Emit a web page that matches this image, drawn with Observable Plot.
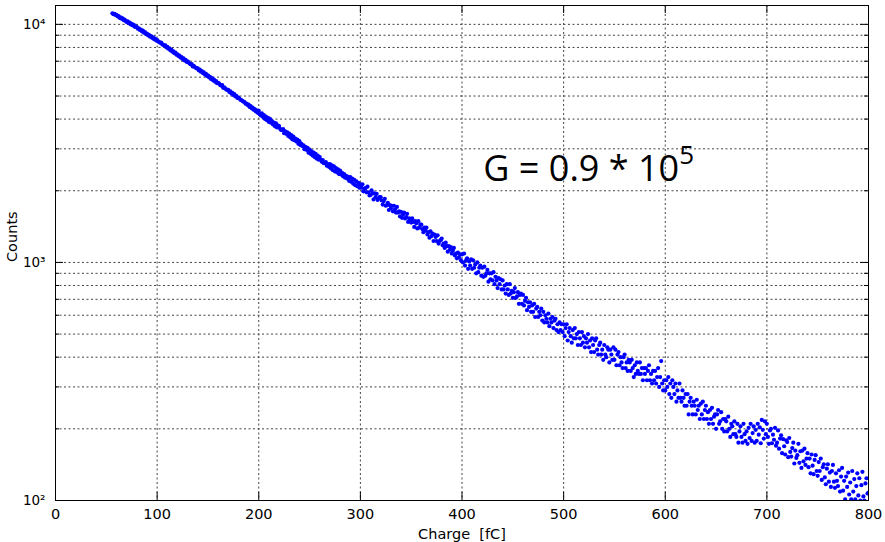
<!DOCTYPE html>
<html><head><meta charset="utf-8">
<script src="https://cdn.jsdelivr.net/npm/d3@7"></script>
<script src="https://cdn.jsdelivr.net/npm/@observablehq/plot@0.6"></script>
<style>body{margin:0;background:#fff}svg{display:block}</style>
</head><body><div id="chart"></div>
<script>
// Charge histogram: one bin per fC, first bin at 56 fC
const chargeStart = 56;
const counts = [
11120,11030,11060,10950,
10950,10810,10830,10650,10700,10560,10590,10420,10480,10330,
10240,10290,10110,10170,9990,10060,9890,9950,9760,9810,
9740,9590,9630,9470,9510,9350,9410,9230,9270,9100,
9150,8990,9040,8870,8930,8780,8820,8660,8710,8560,
8590,8480,8430,8360,8380,8240,8210,8150,8170,8010,
8050,7900,7930,7780,7830,7680,7710,7560,7610,7460,
7490,7360,7390,7250,7290,7160,7190,7050,7090,6960,
6990,6920,6840,6800,6810,6660,6700,6620,6570,6530,
6540,6410,6450,6330,6370,6240,6280,6150,6200,6070,
6110,5990,6020,5900,5950,5820,5860,5740,5780,5660,
5680,5640,5560,5530,5560,5410,5440,5380,5330,5300,
5310,5200,5230,5120,5160,5050,5090,4980,5010,4910,
4930,4880,4820,4800,4770,4730,4720,4640,4650,4580,
4600,4500,4540,4440,4470,4380,4410,4310,4350,4250,
4330,4190,4150,4230,4090,4160,4010,4100,3960,4050,
3890,4010,3860,3920,3800,3870,3730,3840,3690,3760,
3740,3640,3600,3590,3630,3490,3550,3470,3520,3400,
3480,3350,3430,3290,3380,3260,3310,3220,3280,3150,
3230,3110,3150,3080,3100,2990,3060,2970,3030,2890,
2980,2860,2930,2810,2890,2770,2860,2730,2810,2700,
2770,2700,2650,2690,2610,2620,2640,2550,2590,2520,
2590,2480,2560,2440,2530,2410,2490,2390,2460,2350,
2430,2340,2380,2300,2350,2270,2310,2250,2290,2200,
2280,2180,2250,2140,2220,2110,2190,2090,2160,2060,
2130,2060,2130,1990,2040,2050,1970,2080,1970,1910,
1920,2010,1950,1840,1950,1880,1940,1830,1860,1880,
1880,1820,1750,1810,1850,1730,1740,1780,1660,1740,
1690,1730,1640,1730,1670,1620,1710,1620,1640,1560,
1630,1540,1590,1620,1530,1550,1600,1480,1530,1490,
1470,1530,1480,1410,1490,1460,1390,1490,1400,1440,
1440,1380,1340,1400,1360,1400,1310,1340,1270,1350,
1290,1320,1230,1310,1280,1230,1300,1200,1230,1240,
1260,1180,1200,1150,1210,1170,1110,1170,1130,1160,
1090,1120,1150,1070,1090,1040,1100,1050,1080,1020,
1080,1000,1090,970,1020,1040,940,1010,970,1030,
940,1020,950,980,900,1000,910,950,970,880,
950,870,960,880,900,930,830,900,850,900,
840,910,810,870,840,780,860,810,850,770,
840,770,800,740,810,770,730,810,740,760,
710,750,780,710,720,750,670,730,740,670,
730,660,690,710,630,680,650,680,620,660,
620,670,590,640,650,590,620,600,640,570,
620,560,600,580,560,610,540,580,560,590,
530,570,580,520,550,510,560,520,550,510,
550,490,530,550,470,510,530,490,460,520,
480,530,480,500,450,510,480,450,510,460,
490,440,480,460,500,440,470,420,480,450,
420,470,480,430,410,450,460,410,430,390,
450,410,400,440,430,380,430,410,390,440,
390,430,370,410,420,370,400,380,360,400,
410,360,380,350,390,380,350,390,360,330,
370,340,380,350,340,380,340,360,320,360,
340,360,320,350,370,320,340,310,350,320,
350,310,330,360,300,330,385,310,290,320,
290,320,300,330,280,310,270,320,300,280,
310,260,290,270,310,270,260,290,270,250,
280,250,280,230,260,270,250,230,260,250,
230,265,240,250,220,255,230,260,220,240,
250,220,235,210,240,220,245,210,225,230,
200,230,240,210,215,235,200,220,195,220,
215,195,225,200,185,210,205,190,215,190,
185,210,175,195,205,185,175,210,190,178,
195,173,202,183,210,178,192,205,175,198,
178,210,189,203,174,218,198,182,215,190,
210,185,173,197,200,174,189,180,202,170,
175,197,165,182,188,158,181,169,156,179,
176,152,183,160,153,166,175,143,162,151,
155,173,144,161,137,162,146,165,141,150,
158,138,150,130,156,140,129,148,155,133,
127,145,133,150,122,138,142,125,117,136,
142,120,131,114,133,141,120,113,130,121,
115,134,109,126,137,110,121,101,126,114,
131,106,119,101,133,109,123,101,115,130,
105,124,100,116,132,104,100,118,124,107,
108
];

const xTicks = [0, 100, 200, 300, 400, 500, 600, 700, 800];
const xTickLabels = ["0", "100", "200", "300", "400", "500", "600", "700", "800"];
const yMajor = [100, 1000, 10000];
const yMajorLabels = ["10²", "10³", "10⁴"];
const yMinor = [200, 300, 400, 500, 600, 700, 800, 900, 2000, 3000, 4000, 5000, 6000, 7000, 8000, 9000];
const xDomain = [0, 800];
const yDomain = [100, 12000];
const xLabel = "Charge  [fC]";
const yLabel = "Counts";
const annotation = {charge: 421, count: 2465, text: "G = 0.9 * 10", exponent: "5"};

const data = counts.map((c, i) => ({charge: chargeStart + i, count: c}));

const gridStyle = {stroke: "#444", strokeWidth: 1, strokeDasharray: "2,2.5"};

const plot = Plot.plot({
  width: 885, height: 542,
  marginLeft: 55, marginRight: 17, marginTop: 5, marginBottom: 42,
  style: {fontFamily: "DejaVu Sans, sans-serif", background: "#fff", color: "#000"},
  x: {domain: xDomain, axis: null},
  y: {type: "log", domain: yDomain, axis: null},
  marks: [
    Plot.ruleX(xTicks.filter(v => v > xDomain[0] && v < xDomain[1]), {x: d => d, ...gridStyle}),
    Plot.ruleY([...yMinor, ...yMajor.filter(v => v > yDomain[0])], {y: d => d, ...gridStyle}),
    Plot.dot(data, {x: "charge", y: "count", r: 2.1, fill: "#0000ff", clip: true}),
    // inward ticks (MATLAB style)
    Plot.tickX(xTicks, {x: d => d, insetTop: 487, stroke: "#000"}),
    Plot.tickX(xTicks, {x: d => d, insetBottom: 487, stroke: "#000"}),
    Plot.tickY(yMajor, {y: d => d, insetRight: 805, stroke: "#000"}),
    Plot.tickY(yMajor, {y: d => d, insetLeft: 805, stroke: "#000"}),
    Plot.tickY(yMinor, {y: d => d, insetRight: 809, stroke: "#000"}),
    Plot.tickY(yMinor, {y: d => d, insetLeft: 809, stroke: "#000"}),
    Plot.frame({stroke: "#000"}),
    Plot.text(xTicks, {x: d => d, frameAnchor: "bottom", dy: 8, lineAnchor: "top",
      text: (d, i) => xTickLabels[i], fontSize: 14.5, fill: "#000"}),
    Plot.text(yMajor, {y: d => d, frameAnchor: "left", dx: -10, textAnchor: "end",
      text: (d, i) => yMajorLabels[i], fontSize: 13.5, fill: "#000"}),
    Plot.text([xLabel], {frameAnchor: "bottom", dy: 28.5, lineAnchor: "top", text: d => d, fontSize: 14.5, fill: "#000"}),
    Plot.text([yLabel], {frameAnchor: "left", dx: -43, dy: 9, rotate: -90, text: d => d, fontSize: 14.5, fill: "#000"}),
    Plot.text([annotation], {x: "charge", y: "count", text: "text", textAnchor: "start",
      fontSize: 36, fontFamily: "Open Sans, Lato, sans-serif", fill: "#000"})
  ]
});

// superscript exponent for the annotation
d3.select(plot).selectAll("text")
  .filter(function() { return this.textContent === annotation.text; })
  .append("tspan").attr("dy", -17).attr("font-size", 26).text(annotation.exponent);

document.getElementById("chart").appendChild(plot);
</script>
</body></html>
